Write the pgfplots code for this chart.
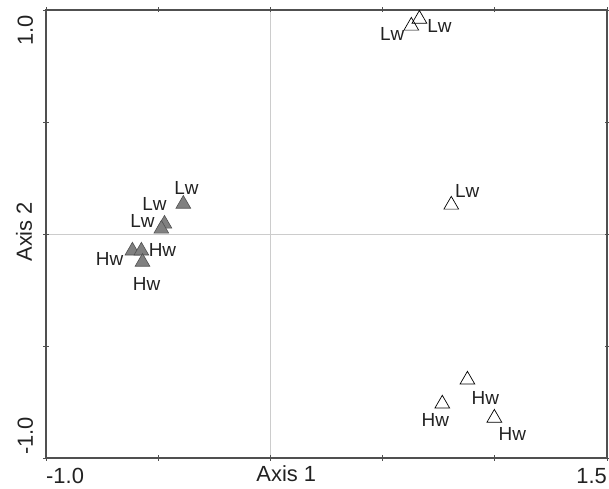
\documentclass[border=0pt]{standalone}
\usepackage{fontspec}
\setmainfont{Liberation Sans}
\usepackage{pgfplots}
\pgfplotsset{compat=1.18}
\definecolor{axisgray}{HTML}{505050}
\definecolor{gridgray}{HTML}{CCCCCC}
\definecolor{fillgray}{HTML}{808080}
\definecolor{edgegray}{HTML}{505050}
\definecolor{txt}{HTML}{222222}
\begin{document}
\begin{tikzpicture}
\begin{axis}[
  scale only axis,
  width=561bp, height=448bp,
  xmin=-1, xmax=1.5, ymin=-1, ymax=1,
  axis line style={axisgray, line width=1.4bp},
  xtick={-1,-0.5,0,0.5,1,1.5},
  ytick={-1,-0.5,0,0.5,1},
  xticklabels={}, yticklabels={},
  tick align=center,
  major tick length=5bp,
  tick style={axisgray, line width=0.8bp},
  extra x ticks={0}, extra y ticks={0},
  extra x tick labels={}, extra y tick labels={},
  extra tick style={grid=major, major grid style={gridgray, line width=0.8bp}},
  clip=false,
]
% filled triangles (left group)
\addplot[only marks, mark=triangle*, mark size=8.5bp,
  mark options={fill=fillgray, draw=edgegray, line width=0.6bp}]
  coordinates {(-0.388,0.134) (-0.472,0.045) (-0.486,0.023)
               (-0.615,-0.075) (-0.575,-0.075) (-0.570,-0.125)};
% open triangles (right group)
\addplot[only marks, mark=triangle, mark size=8.5bp,
  mark options={draw=black, line width=0.7bp, fill=white}]
  coordinates {(0.628,0.929) (0.664,0.960) (0.806,0.130)
               (0.878,-0.651) (0.766,-0.758) (0.998,-0.821)};
% point labels
\begin{scope}[every node/.style={font=\fontsize{19}{22}\selectfont, text=txt, inner sep=0pt}]
\node at (axis cs:-0.374,0.205) {Lw};
\node at (axis cs:-0.517,0.134) {Lw};
\node at (axis cs:-0.570,0.058) {Lw};
\node at (axis cs:-0.717,-0.112) {Hw};
\node at (axis cs:-0.481,-0.071) {Hw};
\node at (axis cs:-0.552,-0.223) {Hw};
\node at (axis cs:0.543,0.893) {Lw};
\node at (axis cs:0.753,0.929) {Lw};
\node at (axis cs:0.877,0.192) {Lw};
\node at (axis cs:0.958,-0.732) {Hw};
\node at (axis cs:0.735,-0.830) {Hw};
\node at (axis cs:1.078,-0.893) {Hw};
\end{scope}
% axis tick labels and titles
\begin{scope}[every node/.style={font=\fontsize{22}{26}\selectfont, text=txt, inner sep=0pt}]
\node[anchor=base west] at ([yshift=-26bp]rel axis cs:0,0) {-1.0};
\node[anchor=base east] at ([yshift=-26bp]rel axis cs:1,0) {1.5};
\node[anchor=base] at ([yshift=-24bp]axis cs:0.071,-1) {Axis 1};
\node[rotate=90, anchor=base east] at ([xshift=-13bp,yshift=-5bp]rel axis cs:0,1) {1.0};
\node[rotate=90, anchor=base west] at ([xshift=-13bp,yshift=3bp]rel axis cs:0,0) {-1.0};
\node[rotate=90, anchor=base] at ([xshift=-14bp]axis cs:-1,0.01) {Axis 2};
\end{scope}
\end{axis}
\pgfresetboundingbox
\path[use as bounding box] ([shift={(-46bp,-31bp)}]current axis.south west) rectangle ([shift={(2bp,10bp)}]current axis.north east);
\end{tikzpicture}
\end{document}
